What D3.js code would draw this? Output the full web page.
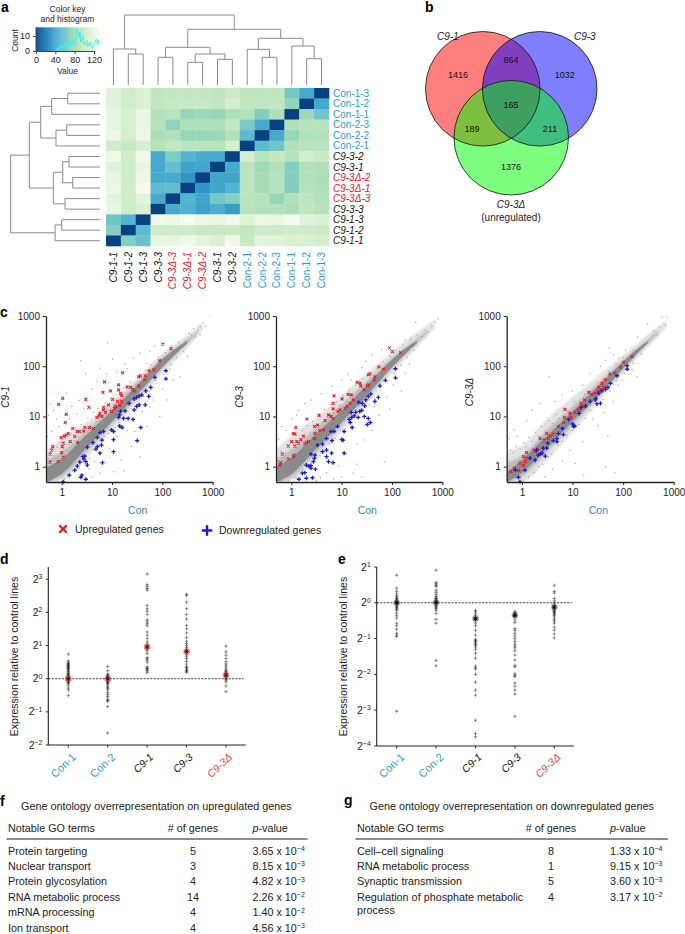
<!DOCTYPE html>
<html><head><meta charset="utf-8">
<script src="https://cdn.jsdelivr.net/npm/d3@7/dist/d3.min.js"></script>
<style>
html,body{margin:0;padding:0;background:#fff}
svg{display:block;font-family:"Liberation Sans",Arial,sans-serif}
</style></head><body>
<svg id="fig" width="685" height="934"></svg>
<script>
// ---------- a: heat map ----------
const heatCols=["C9-1-1","C9-1-2","C9-1-3","C9-3-3","C9-3Δ-3","C9-3Δ-1","C9-3Δ-2","C9-3-1","C9-3-2","Con-2-1","Con-2-2","Con-2-3","Con-1-1","Con-1-2","Con-1-3"];
const heatRows=["Con-1-3","Con-1-2","Con-1-1","Con-2-3","Con-2-2","Con-2-1","C9-3-2","C9-3-1","C9-3Δ-2","C9-3Δ-1","C9-3Δ-3","C9-3-3","C9-1-3","C9-1-2","C9-1-1"];
const heatValues=[
[114,103,110,94,96,96,96,94,100,94,94,94,62,42,0],
[114,103,110,94,98,98,98,94,106,94,94,94,72,0,42],
[118,108,120,86,90,74,76,74,84,86,68,84,0,76,60],
[118,108,120,88,72,84,84,84,96,64,42,0,84,88,88],
[122,106,122,83,86,74,74,76,86,52,0,42,74,86,86],
[103,98,108,88,94,90,90,90,106,0,52,60,86,90,90],
[126,103,126,42,66,48,42,42,0,106,90,96,88,104,98],
[113,102,120,42,56,38,40,0,42,90,78,86,68,86,84],
[118,102,122,42,42,32,0,40,40,90,80,88,68,86,82],
[122,103,128,52,54,0,32,40,48,90,80,88,68,88,84],
[116,102,116,42,0,48,40,62,68,90,88,74,86,92,86],
[120,102,110,0,42,46,38,44,35,90,86,86,83,94,88],
[60,48,0,126,122,130,122,120,126,114,122,120,128,114,110],
[68,0,52,103,102,102,98,98,100,96,102,100,102,102,100],
[0,68,58,120,118,124,116,110,126,98,116,114,110,110,106]];
const colTree=[70,[36,"C9-1-1",[31,"C9-1-2","C9-1-3"]],[55.7,[37.7,[27.7,"C9-3-3","C9-3Δ-3"],[31,[22.7,"C9-3Δ-1","C9-3Δ-2"],[25.7,"C9-3-1","C9-3-2"]]],[46.7,[35.7,"Con-2-1",[27.7,"Con-2-2","Con-2-3"]],[39,"Con-1-1",[26.3,"Con-1-2","Con-1-3"]]]]];
const rowTree=[70,[55.4,[46.5,[37.9,[25.3,"Con-1-3","Con-1-2"],"Con-1-1"],[34.5,[26.1,"Con-2-3","Con-2-2"],"Con-2-1"]],[36.6,[29.2,[24.3,"C9-3-2","C9-3-1"],[21.4,"C9-3Δ-2","C9-3Δ-1"]],[27.4,"C9-3Δ-3","C9-3-3"]]],[35.2,[30,"C9-1-3","C9-1-2"],"C9-1-1"]];
const keyTicks=[0,40,80,120], keyCountTicks=[0,10];
const histStart=42, histStep=2;
const histCounts=[0,2,1,3,4,3,2,4,3,5,2,4,6,3,5,4,7,5,6,4,8,15,12,9,13,6,8,10,5,4,6,7,3,5,4,6,3,2,4,5,7,8,5,7,4];
const heatStops=[0,12,28,46,65,80,100,130];
const heatColors=["#084081","#0868ac","#2b8cbe","#4eb3d3","#7bccc4","#a8ddb5","#ccebc5","#f7fcf0"];
// ---------- b: Venn ----------
const vennSets=["C9-1","C9-3","C9-3Δ"];
const vennCounts=[1416,864,1032,165,189,211,1376];
// ---------- c: scatter, log10 expression [Con, sample] ----------
const scatterTicks=[1,10,100,1000];
const upA=[[2.01,2.44],[2.17,2.35],[1.95,2.11],[1.83,1.93],[1.74,1.91],[1.66,1.81],[1.56,1.81],[1.53,1.79],[1.21,1.87],[.85,1.69],[.48,1.34],[.54,1.18],[.02,1.36],[-.06,1.24],[.09,1.04],[.07,.88],[1.13,1.63],[1.13,1.53],[.97,1.51],[.82,1.48],[1.17,1.46],[1.19,1.42],[1.30,1.59],[1.37,1.58],[1.41,1.54],[1.44,1.51],[1.53,1.61],[1.65,1.73],[1.11,1.30],[1.01,1.34],[.93,1.23],[.83,1.18],[.83,1.13],[.76,1.06],[.74,1.01],[.70,.98],[.80,1.00],[.87,1.08],[.99,1.10],[1.05,1.16],[1.07,1.20],[1.15,1.22],[1.19,1.30],[.63,.76],[.55,.78],[.46,.78],[.44,.71],[.35,.70],[.31,.70],[.26,.60],[.17,.50],[.13,.66],[.09,.63],[.05,.61],[-.01,.58],[.03,.47],[.01,.40],[0,.28],[.03,.19],[-.07,.10],[-.23,.09],[-.23,.25],[-.20,.33],[-.18,.40],[.32,.48],[.22,.76]];
const downA=[[2.07,1.91],[2.07,1.75],[1.85,1.78],[1.77,1.58],[1.73,1.40],[1.67,1.51],[1.59,1.43],[1.54,1.41],[1.49,1.38],[1.44,1.35],[1.34,1.26],[1.26,1.11],[1.54,1.23],[1.49,1.20],[1.44,1.13],[1.66,1.23],[1.42,.94],[1.32,.96],[1.23,.96],[1.15,1.03],[1.13,.98],[1.17,1.10],[1.15,.81],[1.20,.78],[1.57,.78],[1.50,.52],[1.03,.54],[1.03,.70],[.99,.73],[.83,.70],[.76,.68],[.71,.58],[.80,.53],[.79,.43],[.71,.40],[.68,.35],[.51,.39],[.62,.48],[.76,.27],[.81,.08],[.46,.21],[.42,.20],[.44,.15],[.48,.10],[.51,.03],[.36,.09],[.31,.01],[.26,-.07],[.15,-.17],[.03,-.30],[.40,-.17],[.38,-.21],[.48,-.25],[1.03,.30]];
const otherA=[[2.95,3.0],[2.81,2.86],[2.86,2.8],[2.75,2.79],[2.7,2.72],[2.62,2.75],[2.58,2.62],[2.53,2.65],[2.65,2.58],[2.75,2.62],[2.45,2.5],[.91,2.47],[.38,2.11],[1.01,2.14],[.76,1.96],[.48,1.85],[1.42,2.16],[1.56,2.26],[1.69,2.06],[1.3,1.95],[.1,1.46],[-.23,1.26],[-.16,1.13],[-.26,1.03],[-.1,.95],[.2,1.2],[.35,1.32],[.6,1.55],[.7,1.7],[.9,1.85],[1.1,1.9],[1.25,2.05],[1.75,2.3],[1.85,2.4],[1.69,.8],[1.95,1.0],[2.09,1.33],[2.35,1.79],[1.39,.4],[1.24,-.08],[1.03,-.1],[.76,-.13],[1.19,.13],[1.56,.2],[2.22,1.73],[1.82,1.33],[1.89,1.66],[1.3,.72],[1.1,.6],[.95,.35],[.65,.1],[.55,-.05],[.6,-.2],[1.45,.7],[2.0,1.55],[2.15,1.95],[2.5,2.2],[-.28,.6],[-.2,.7],[-.05,.8],[.15,.95],[.3,1.05],[.45,1.15],[1.6,1.1],[1.75,1.2],
[-.27,.17],[-.22,.28],[-.14,.22],[-.09,.38],[-.03,.47],[.04,.37],[.07,.58],[.13,.44],[.18,.66],[.24,.52],[.28,.77],[.33,.6],[.39,.84],[.43,.68],[.52,.97],[.57,.82],[.63,1.08],[.68,.9],[.72,1.16],[.81,1.02],[.86,1.27],[.92,1.14],[.97,1.35],[1.04,1.24],[1.08,1.44],[1.16,1.33],[1.23,1.57],[1.31,1.46],[1.36,1.68],[1.47,1.62],[1.58,1.77],[1.67,1.92],[1.78,2.03],[1.92,2.18],[2.06,2.27],[2.18,2.4],[2.33,2.47],
[-.24,-.25],[-.08,-.29],[.06,-.24],[.21,-.09],[.34,-.04],[.42,.1],[.55,.17],[.63,.34],[.73,.42],[.84,.6],[.93,.66],[1.06,.78],[1.14,.88],[1.27,.96],[1.38,1.16],[1.52,1.25],[1.63,1.4],[1.74,1.5],[1.87,1.72],[2.03,1.84],[2.16,2.03],[2.28,2.17],[2.42,2.3]];
const hazeA=[[-.31,-.31,.28],[0,-.28,.58],[.5,.18,.88],[1,.72,1.33],[1.5,1.28,1.76],[2,1.85,2.25],[2.5,2.36,2.62],[2.8,2.72,2.88]];
const midA=[[-.31,-.31,.12],[0,-.2,.3],[.5,.3,.72],[1,.84,1.2],[1.5,1.38,1.68],[2,1.95,2.18],[2.4,2.36,2.46],[2.7,2.65,2.7]];
const coreA=[[-.31,-.31,-.02],[0,-.14,.16],[.5,.38,.64],[1,.9,1.12],[1.5,1.44,1.62],[2,1.98,2.14],[2.3,2.28,2.38],[2.5,2.46,2.5]];
const upB=[[1.95,2.36],[2.01,2.29],[2.17,2.27],[1.74,1.99],[1.83,1.94],[1.53,1.83],[1.56,1.85],[1.66,1.79],[1.65,1.73],[1.54,1.63],[1.51,1.61],[1.45,1.53],[1.38,1.61],[1.31,1.68],[1.37,1.66],[1.19,1.43],[1.13,1.44],[1.01,1.35],[.85,1.41],[.83,1.26],[.83,1.15],[.93,1.10],[1.07,1.16],[1.11,1.20],[1.17,1.26],[1.23,1.33],[.97,1.13],[.74,1.03],[.79,1.00],[.83,.96],[.67,.92],[.55,1.02],[.31,.95],[.09,.78],[.04,.66],[.07,.65],[.01,.50],[.11,.50],[.14,.47],[.24,.61],[.19,.54],[.30,.48],[.46,.80],[.52,.83],[.47,.66],[.46,.56],[.64,.73],[.57,.72],[.34,.50],[.07,.41],[-.06,.41],[-.18,.25],[.06,.23],[.04,.20],[-.06,.15],[-.21,.08],[-.23,.03],[.27,.45]];
const downB=[[2.07,1.95],[2.07,1.77],[1.87,1.72],[1.76,1.61],[1.73,1.38],[1.66,1.30],[1.58,1.45],[1.53,1.40],[1.48,1.33],[1.41,1.26],[1.34,1.28],[1.46,1.21],[1.40,1.12],[1.36,1.10],[1.28,1.08],[1.19,1.08],[1.25,1.01],[1.20,.98],[1.15,.94],[1.17,.88],[1.33,.98],[1.45,1.00],[1.53,.96],[1.57,.88],[1.51,.84],[1.21,.78],[.92,.80],[1.05,.70],[1.00,.54],[1.03,.53],[.79,.70],[.85,.70],[.81,.52],[.70,.56],[.62,.45],[.52,.43],[.70,.33],[.62,.30],[.39,.25],[.47,.23],[.46,.17],[.44,.10],[.80,.27],[1.05,.27],[.70,.20],[.74,.10],[.83,.08],[.30,.03],[.35,.01],[.39,.02],[.48,-.05],[.27,-.12],[.22,-.13],[.15,-.25],[.30,-.23],[.42,-.22],[.39,-.03]];
const otherB=[[2.92,2.94],[2.47,2.87],[2.79,2.79],[2.86,2.88],[2.66,2.72],[2.59,2.59],[2.26,2.52],[2.72,2.68],[2.5,2.62],[2.38,2.55],[.4,1.33],[.27,1.26],[.11,1.03],[-.19,.8],[1.2,1.73],[1.6,2.23],[1.79,2.33],[1.0,1.72],[.8,1.6],[.6,1.45],[.15,1.12],[.02,.95],[-.1,.72],[-.25,.55],[1.4,1.98],[1.48,2.1],[1.12,1.85],[1.85,.1],[1.46,.53],[1.23,-.13],[1.4,-.2],[2.19,1.5],[2.03,1.63],[2.26,1.86],[1.75,1.02],[1.6,.72],[1.3,.45],[1.1,.25],[.95,.02],[.7,-.12],[.58,-.22],[.5,-.28],[1.65,1.2],[1.9,1.38],[2.1,1.75],[2.35,2.05],[1.95,1.15],[1.3,.05],[1.0,-.2],[.85,-.25],
[-.28,.12],[-.2,.3],[-.12,.26],[-.07,.42],[-.01,.5],[.06,.42],[.1,.62],[.16,.5],[.21,.72],[.26,.58],[.31,.82],[.37,.68],[.42,.9],[.49,.78],[.55,1.05],[.61,.88],[.66,1.14],[.72,.98],[.78,1.24],[.84,1.08],[.89,1.3],[.96,1.22],[1.02,1.42],[1.09,1.3],[1.15,1.52],[1.22,1.42],[1.28,1.62],[1.35,1.52],[1.43,1.74],[1.52,1.68],[1.62,1.86],[1.71,1.96],[1.83,2.1],[1.96,2.2],[2.08,2.32],[2.22,2.43],[2.36,2.52],
[-.21,-.27],[-.06,-.28],[.09,-.22],[.23,-.06],[.36,0],[.45,.14],[.57,.22],[.66,.3],[.76,.46],[.87,.56],[.97,.72],[1.08,.76],[1.18,.9],[1.29,.98],[1.41,1.12],[1.55,1.24],[1.66,1.36],[1.78,1.52],[1.9,1.7],[2.04,1.86],[2.18,2.02],[2.3,2.18],[2.44,2.32]];
const hazeB=[[-.31,-.31,.33],[0,-.28,.62],[.5,.15,.98],[1,.7,1.42],[1.5,1.25,1.86],[2,1.85,2.28],[2.5,2.38,2.68],[2.85,2.75,2.93]];
const midB=[[-.31,-.31,.15],[0,-.22,.34],[.5,.28,.78],[1,.82,1.24],[1.5,1.36,1.7],[2,1.95,2.17],[2.4,2.36,2.47],[2.7,2.66,2.72]];
const coreB=[[-.31,-.31,0],[0,-.15,.18],[.5,.36,.66],[1,.88,1.12],[1.5,1.42,1.62],[2,1.98,2.13],[2.3,2.28,2.38],[2.5,2.46,2.5]];
const upC=[[2.18,2.19],[2.01,2.08],[1.95,1.98],[1.83,1.86],[1.74,1.84],[1.65,1.73],[1.58,1.66],[1.52,1.58],[1.62,1.58],[1.56,1.53],[1.50,1.50],[1.44,1.46],[1.38,1.44],[1.32,1.48],[1.24,1.33],[1.17,1.26],[1.22,1.20],[1.15,1.16],[1.11,1.13],[1.05,1.08],[.95,1.06],[.97,.98],[.85,1.14],[.84,.98],[.83,.88],[.72,.80],[.62,.65],[.56,.61],[.49,.66],[.44,.53],[.36,.56],[.31,.35],[.23,.33],[.09,.28],[.03,.20],[.09,.17],[.07,.10],[.03,.03],[-.04,.07],[-.15,-.03],[-.22,-.10],[-.07,-.08],[.26,.30],[.52,.56]];
const downC=[[2.08,2.01],[2.08,1.94],[1.88,1.81],[1.75,1.66],[1.70,1.58],[1.65,1.54],[1.58,1.51],[1.52,1.46],[1.46,1.36],[1.35,1.30],[1.26,1.21],[1.17,1.18],[1.13,1.06],[.92,.94],[.80,.76],[.82,.64],[.72,.66],[1.00,.85],[1.04,.81],[1.02,.80],[1.55,1.26],[1.48,1.25],[1.45,1.33],[.69,.56],[.69,.50],[.62,.52],[.51,.47],[.49,.37],[.42,.37],[.40,.27],[.36,.25],[.46,.21],[.32,.23],[.26,.13],[.29,.33],[.16,.17],[.06,-.07],[-.07,-.21],[-.04,-.30],[-.13,-.07]];
const otherC=[[2.77,2.98],[2.87,2.98],[2.84,2.82],[2.48,2.84],[2.28,2.58],[1.81,2.23],[1.91,2.16],[1.72,2.36],[.54,1.79],[.2,1.13],[.36,1.26],[-.15,.73],[2.6,2.7],[2.68,2.62],[2.72,2.78],[1.0,1.5],[.8,1.42],[.65,1.3],[.1,.92],[-.1,.6],[-.25,.55],[1.2,1.62],[1.35,1.85],[1.55,2.0],[1.65,2.12],[2.05,2.32],[1.7,.61],[1.65,0],[1.83,-.12],[1.22,-.17],[1.05,.07],[2.18,1.93],[2.28,1.79],[1.9,1.62],[1.62,1.08],[1.4,.95],[1.2,.5],[.95,.32],[.8,.12],[.6,-.05],[.45,-.2],[1.5,.82],[1.98,1.72],[1.8,1.3],
[-.29,.2],[-.23,.33],[-.17,.28],[-.11,.4],[-.04,.36],[.03,.47],[.08,.4],[.14,.58],[.19,.5],[.27,.68],[.33,.6],[.38,.8],[.46,.72],[.53,.92],[.6,.86],[.67,1.04],[.74,.96],[.82,1.16],[.91,1.1],[1.03,1.3],[1.13,1.24],[1.24,1.44],[1.37,1.5],[1.48,1.68],[1.6,1.72],[1.72,1.9],[1.86,2.05],[2.0,2.18],[2.2,2.32],
[-.25,-.28],[-.12,-.22],[.02,-.27],[.13,-.2],[.24,-.12],[.33,0],[.41,.05],[.52,.2],[.59,.25],[.71,.42],[.79,.5],[.89,.62],[1.0,.72],[1.12,.84],[1.25,.96],[1.36,1.12],[1.49,1.22],[1.6,1.34],[1.74,1.5],[1.88,1.72],[2.02,1.86],[2.2,2.06],[2.36,2.24]];
const hazeC=[[-.31,-.31,.3],[0,-.3,.42],[.5,.14,.96],[1,.68,1.38],[1.5,1.28,1.8],[2,1.86,2.22],[2.5,2.4,2.64],[2.85,2.76,2.92]];
const midC=[[-.31,-.31,.08],[0,-.2,.22],[.5,.3,.74],[1,.82,1.2],[1.5,1.36,1.66],[2,1.92,2.13],[2.4,2.36,2.46],[2.7,2.66,2.72]];
const coreC=[[-.31,-.31,-.12],[0,-.12,.14],[.5,.37,.62],[1,.9,1.1],[1.5,1.4,1.6],[2,1.96,2.09],[2.3,2.28,2.36],[2.5,2.47,2.5]];
// ---------- d, e: strips, log2 ratio ----------
const stripCats=["Con-1","Con-2","C9-1","C9-3","C9-3Δ"];
const dValues=[
[.74,.54,.50,.46,.44,.42,.40,.38,.36,.34,.32,.30,.28,.24,.22,.18,.16,.14,.12,.10,.08,.06,.04,.02,0,-.02,-.04,-.06,-.08,-.10,-.12,-.14,-.20,-.28,-.34,-.51],
[.37,.24,.14,.11,.09,.08,.06,.04,.02,0,-.02,-.04,-.06,-.08,-.10,-.12,-.14,-.16,-.22,-.26,-.30,-.34,-.42,-.48,-.54,-.62,-.66,-.68,-.84,-1.64],
[3.16,2.84,2.78,2.72,2.67,2.21,2.11,2.04,1.94,1.78,1.72,1.66,1.60,1.41,1.31,1.21,1.11,1.04,.96,.90,.84,.76,.64,.60,.56,.50,.36,.32,.30,.26,.24,.18],
[2.55,2.51,2.31,2.11,1.94,1.80,1.61,1.51,1.38,1.24,1.13,1.06,1.00,.94,.88,.80,.72,.66,.60,.52,.44,.36,.34,.30,.27,.24,.22,.19],
[.98,.81,.71,.61,.51,.44,.38,.32,.26,.23,.20,.17,.14,.11,.08,.05,.02,-.01,-.04,-.10,-.22,-.39]];
const dMeans=[0,0,.96,.82,.11];
const eValues=[
[.77,.41,.32,.25,.19,.16,.12,.10,.08,.06,.05,.03,.01,-.01,-.03,-.05,-.07,-.10,-.13,-.15,-.18,-.21,-.29,-.36,-.43,-.57,-.64,-.74,-.85,-.90,-.94,-3.03],
[.91,.57,.53,.49,.46,.35,.29,.23,.18,.14,.12,.10,.08,.05,.03,.01,-.01,-.03,-.05,-.07,-.10,-.13,-.16,-.21,-.29,-.46,-.57,-1.61,-1.76],
[-.21,-.25,-.31,-.36,-.44,-.50,-.57,-.64,-.77,-.90,-1.02,-1.05,-1.07,-1.10,-1.13,-1.16,-1.19,-1.24,-1.30,-1.41,-1.55,-1.77,-1.82,-1.85,-2.0,-2.22,-2.44,-2.58,-3.28,-3.65,-3.74],
[-.24,-.27,-.29,-.31,-.33,-.36,-.40,-.48,-.55,-.72,-.77,-.85,-.93,-1.0,-1.08,-1.15,-1.21,-1.26,-1.34,-1.46,-1.60,-1.75,-1.79,-1.98,-2.03,-2.06,-2.24,-2.33,-2.44,-2.55,-3.17],
[.49,.32,.27,.12,.05,-.01,-.07,-.10,-.13,-.15,-.18,-.2,-.22,-.24,-.27,-.29,-.32,-.35,-.40,-.46,-.51,-.57,-.68,-.76,-.87,-.98]];
const eMeans=[0,.01,-.44,-.35,-.12];
const dTicks=[3,2,1,0,-1,-2], eTicks=[1,0,-1,-2,-3,-4];
// ---------- f, g: tables ----------
const fTerms=["Protein targeting","Nuclear transport","Protein glycosylation","RNA metabolic process","mRNA processing","Ion transport"];
const fGenes=[5,3,4,14,4,4];
const fMant=["3.65","8.15","4.82","2.26","1.40","4.56"];
const fExp=["−4","−3","−3","−2","−2","−3"];
const gTerms=["Cell–cell signaling","RNA metabolic process","Synaptic transmission",["Regulation of phosphate metabolic","process"]];
const gGenes=[8,1,5,4];
const gMant=["1.33","9.15","3.60","3.17"];
const gExp=["−4","−3","−3","−2"];

// ---------- drawing ----------
const INK="#222", BLUE="#2a9cc8", RED="#e0202a", AXBLUE="#2f86c5";
const svg=d3.select("#fig");
const defs=svg.append("defs");
[["soft",1.3],["softer",.7]].forEach(([id,s])=>defs.append("filter").attr("id",id).attr("x","-10%").attr("y","-10%").attr("width","120%").attr("height","120%")
  .append("feGaussianBlur").attr("stdDeviation",s));
function txt(g,x,y,s,o={}){
  const t=g.append("text").attr("x",x).attr("y",y).text(s)
    .attr("font-size",o.size||10).attr("fill",o.fill||INK);
  if(o.anchor)t.attr("text-anchor",o.anchor);
  if(o.italic)t.attr("font-style","italic");
  if(o.bold)t.attr("font-weight","bold");
  if(o.rotate!=null)t.attr("transform",`rotate(${o.rotate} ${x} ${y})`);
  return t;
}
const labelColor=s=>s.startsWith("Con")?BLUE:(s.includes("Δ")?RED:"#111");
const isItalic=s=>!s.startsWith("Con");
[["a",1,12],["b",425,12],["c",0,317],["d",0,564],["e",338,564],["f",0,806],["g",344,805]]
  .forEach(([s,x,y])=>txt(svg,x,y,s,{size:14,bold:true,fill:"#000"}));

// heat map
const hx=d3.scaleBand().domain(heatCols).range([106,329]);
const hy=d3.scaleBand().domain(heatRows).range([88,246]);
const heatColor=d3.scaleLinear().domain(heatStops).range(heatColors);
const ga=svg.append("g");
heatRows.forEach((r,i)=>heatCols.forEach((c,j)=>{
  ga.append("rect").attr("x",hx(c)).attr("y",hy(r)).attr("width",hx.bandwidth()+.3).attr("height",hy.bandwidth()+.3)
    .attr("fill",heatColor(heatValues[i][j]));
}));
heatRows.forEach(r=>txt(ga,333,hy(r)+hy.bandwidth()/2+3.5,r,{fill:labelColor(r),italic:isItalic(r)}));
heatCols.forEach(c=>txt(ga,hx(c)+hx.bandwidth()/2+3.5,252,c,{fill:labelColor(c),italic:isItalic(c),anchor:"end",rotate:-90}));
function dendro(tree,pos,hScale,horizontal){
  const root=d3.hierarchy(tree,d=>Array.isArray(d)?d.slice(1):null);
  root.eachAfter(n=>{
    if(n.children){n.p=d3.mean(n.children,c=>c.p);n.h=n.data[0];}
    else{n.p=pos(n.data);n.h=0;}
  });
  const path=d3.path();
  root.each(n=>{ if(!n.children)return;
    const [a,b]=n.children, H=hScale(n.h);
    if(horizontal){path.moveTo(hScale(a.h),a.p);path.lineTo(H,a.p);path.lineTo(H,b.p);path.lineTo(hScale(b.h),b.p);}
    else{path.moveTo(a.p,hScale(a.h));path.lineTo(a.p,H);path.lineTo(b.p,H);path.lineTo(b.p,hScale(b.h));}
  });
  ga.append("path").attr("d",path.toString()).attr("fill","none").attr("stroke","#8a8a8a").attr("stroke-width",1);
}
dendro(colTree,c=>hx(c)+hx.bandwidth()/2,d3.scaleLinear().domain([0,70]).range([85,15]),false);
dendro(rowTree,r=>hy(r)+hy.bandwidth()/2,d3.scaleLinear().domain([0,70]).range([100,10.7]),true);

// colour key
const kx=d3.scaleLinear().domain([0,120]).range([36,94]);
const ky=d3.scaleLinear().domain([0,10]).range([51,36]);
const kg=svg.append("g");
d3.range(0,130,1).forEach(v=>kg.append("rect").attr("x",kx(v)).attr("y",27.5).attr("width",kx(1)-kx(0)+.3).attr("height",23.5).attr("fill",heatColor(v)));
const hline=d3.line().x(d=>kx(d[0])).y(d=>ky(d[1])).curve(d3.curveStepAfter);
kg.append("path").attr("d",hline(histCounts.map((c,i)=>[histStart+i*histStep,c]))).attr("fill","none").attr("stroke","#45f0ea").attr("stroke-width",.9);
const kax=kg.append("g").attr("transform","translate(0,51)").call(d3.axisBottom(kx).tickValues(keyTicks).tickSize(3).tickSizeOuter(0));
kax.selectAll("text").attr("font-size",9).attr("font-family","inherit").attr("fill",INK);
kax.select(".domain").attr("stroke","#444");kax.selectAll("line").attr("stroke","#444");
const kay=kg.append("g").attr("transform","translate(36,0)").call(d3.axisLeft(ky).tickValues(keyCountTicks).tickSize(3).tickSizeOuter(0));
kay.selectAll("text").attr("font-size",9).attr("font-family","inherit").attr("fill",INK);
kay.select(".domain").attr("d","M0,51V27.5").attr("stroke","#444");kay.selectAll("line").attr("stroke","#444");
txt(kg,67.5,12,"Color key",{size:8.5,anchor:"middle"});
txt(kg,67.5,22,"and histogram",{size:8.5,anchor:"middle"});
txt(kg,67.5,74,"Value",{size:8.5,anchor:"middle"});
txt(kg,18,40.5,"Count",{size:8.5,anchor:"middle",rotate:-90});

// Venn
const vx=d3.scaleLinear().domain([0,1]).range([482.8,539.7]);
const vg=svg.append("g");
const vennCircles=[[0,88.8,"#ff0000"],[1,88.8,"#0000ff"],[.5,137.7,"#00ff00"]];
vennCircles.forEach(([u,cy,col])=>vg.append("circle").attr("cx",vx(u)).attr("cy",cy).attr("r",57.3).attr("fill",col).attr("fill-opacity",.5));
vennCircles.forEach(([u,cy])=>vg.append("circle").attr("cx",vx(u)).attr("cy",cy).attr("r",57.3).attr("fill","none").attr("stroke","#111").attr("stroke-width",.8));
[[458,78],[511,63],[564.7,78],[511,108],[472,131.5],[550,131.5],[511,169.5]].forEach(([x,y],i)=>txt(vg,x,y,vennCounts[i],{size:9,anchor:"middle",fill:"#111"}));
txt(vg,437,40,vennSets[0],{italic:true,size:10});
txt(vg,574,40,vennSets[1],{italic:true,size:10});
txt(vg,511,208,vennSets[2],{italic:true,size:10,anchor:"middle"});
txt(vg,511,221,"(unregulated)",{size:10,anchor:"middle"});

// scatter panels
function scatter(x0,x1000,xAxisLeft,title,lblX,lblY,other,haze,mid,core,up,down){
  const g=svg.append("g");
  const minX=Math.pow(10,(xAxisLeft-x0)/((x1000-x0)/3));
  const x=d3.scaleLog().domain([minX,1000]).range([xAxisLeft,x1000]);
  const y=d3.scaleLog().domain([Math.pow(10,-.305),1000]).range([482,316]);
  const X=l=>x(Math.pow(10,l)), Y=l=>y(Math.pow(10,l));
  const area=d3.area().x(d=>X(d[0])).y0(d=>Y(d[1])).y1(d=>Y(d[2])).curve(d3.curveMonotoneX);
  const clipId="clip"+Math.round(xAxisLeft);
  defs.append("clipPath").attr("id",clipId).append("rect").attr("x",xAxisLeft).attr("y",316).attr("width",x1000-xAxisLeft).attr("height",166);
  const b=g.append("g").attr("clip-path",`url(#${clipId})`);
  b.append("path").attr("d",area(haze)).attr("fill","#e2e2e2").attr("filter","url(#soft)");
  b.append("path").attr("d",area(mid)).attr("fill","#bcbcbc").attr("filter","url(#soft)");
  b.append("g").selectAll("circle").data(other).join("circle").attr("cx",d=>X(d[0])).attr("cy",d=>Y(d[1])).attr("r",.75).attr("fill","#aaaaaa");
  b.append("path").attr("d",area(core)).attr("fill","#8b8b8b").attr("filter","url(#softer)");
  const sym=d3.symbol().size(6.5);
  g.append("g").selectAll("path").data(up).join("path").attr("d",sym.type(d3.symbolTimes)())
    .attr("transform",d=>`translate(${X(d[0])},${Y(d[1])})`).attr("fill","none").attr("stroke",RED).attr("stroke-width",1.1);
  g.append("g").selectAll("path").data(down).join("path").attr("d",sym.type(d3.symbolPlus)())
    .attr("transform",d=>`translate(${X(d[0])},${Y(d[1])})`).attr("fill","none").attr("stroke","#1a1ad0").attr("stroke-width",1.3);
  const fmt=d=>String(d);
  const ax=g.append("g").attr("transform","translate(0,482)").call(d3.axisBottom(x).tickValues(scatterTicks).tickFormat(fmt).tickSize(3).tickSizeOuter(0));
  const ay=g.append("g").attr("transform",`translate(${xAxisLeft},0)`).call(d3.axisLeft(y).tickValues(scatterTicks).tickFormat(fmt).tickSize(3).tickSizeOuter(0));
  [ax,ay].forEach(a=>{a.select(".domain").attr("stroke","#222").attr("stroke-width",1.3);a.selectAll("line").attr("stroke","#222");
    a.selectAll("text").attr("font-size",10).attr("font-family","inherit").attr("fill",INK);});
  ax.selectAll("text").attr("dy","0.9em").attr("y",5);
  txt(g,(x0+x1000)/2+.5,514,"Con",{size:10.5,anchor:"middle",fill:AXBLUE});
  txt(g,lblX,lblY,title,{italic:true,size:10,anchor:"middle",rotate:-90});
}
scatter(61.7,212.7,46,"C9-1",8.5,397,otherA,hazeA,midA,coreA,upA,downA);
scatter(291.3,442.3,276,"C9-3",243,397,otherB,hazeB,midB,coreB,upB,downB);
scatter(522,673.7,506.7,"C9-3Δ",473,392,otherC,hazeC,midC,coreC,upC,downC);
// legend
const lsym=d3.symbol().size(38);
svg.append("path").attr("d",lsym.type(d3.symbolTimes)()).attr("transform","translate(63,529)").attr("fill","none").attr("stroke",RED).attr("stroke-width",2.4);
svg.append("path").attr("d",lsym.type(d3.symbolPlus)()).attr("transform","translate(207,530.5)").attr("fill","none").attr("stroke","#1a1ad0").attr("stroke-width",2.4);
txt(svg,75,533,"Upregulated genes",{size:10.5});
txt(svg,219,534,"Downregulated genes",{size:10.5});

// strip panels
function strip(values,means,ticks,domain,yr,xr,cr,lblX,halo,starCol){
  const g=svg.append("g");
  const x=d3.scalePoint().domain(stripCats).range(cr);
  const y=d3.scaleLinear().domain(domain).range(yr);
  g.append("line").attr("x1",xr[0]).attr("x2",xr[1]-2).attr("y1",y(0)).attr("y2",y(0)).attr("stroke","#111").attr("stroke-width",.8).attr("stroke-dasharray","2.2 1.2");
  const sym=d3.symbol().type(d3.symbolPlus).size(4.5);
  stripCats.forEach((c,i)=>{
    g.append("g").selectAll("path").data(values[i]).join("path").attr("d",sym())
      .attr("transform",d=>`translate(${x(c)},${y(d)})`).attr("fill","none").attr("stroke","#222").attr("stroke-opacity",.6).attr("stroke-width",.8);
    const my=y(means[i]);
    g.append("circle").attr("cx",x(c)).attr("cy",my).attr("r",3.4).attr("fill",halo).attr("fill-opacity",.55);
    g.append("path").attr("d",d3.symbol().type(d3.symbolPlus).size(8)()).attr("transform",`translate(${x(c)},${my})`).attr("fill","none").attr("stroke",starCol).attr("stroke-width",.9);
    g.append("path").attr("d",d3.symbol().type(d3.symbolTimes).size(8)()).attr("transform",`translate(${x(c)},${my})`).attr("fill","none").attr("stroke",starCol).attr("stroke-width",.9);
    const isCon=c.startsWith("Con");
    txt(g,x(c)+(isCon?8.5:7),758,c,{size:isCon?11:10.5,anchor:"end",rotate:-43,fill:isCon?"#3a9ccb":(c.includes("Δ")?"#e5404a":"#111"),italic:isItalic(c)});
  });
  const base=xr[0], bottom=yr[0];
  g.append("line").attr("x1",base).attr("x2",base).attr("y1",yr[1]).attr("y2",bottom).attr("stroke","#222").attr("stroke-width",1.1);
  g.append("line").attr("x1",base).attr("x2",xr[1]).attr("y1",bottom).attr("y2",bottom).attr("stroke","#222").attr("stroke-width",1.1);
  stripCats.forEach(c=>g.append("line").attr("x1",x(c)).attr("x2",x(c)).attr("y1",bottom).attr("y2",bottom+2.5).attr("stroke","#222"));
  ticks.forEach(t=>{
    g.append("line").attr("x1",base-2.5).attr("x2",base).attr("y1",y(t)).attr("y2",y(t)).attr("stroke","#222");
    const e=String(t).replace("-","−");
    const tx=g.append("text").attr("x",base-6).attr("y",y(t)+3.5).attr("text-anchor","end").attr("font-size",10.5).attr("fill",INK);
    tx.append("tspan").text("2");
    tx.append("tspan").attr("dy",-3.5).attr("font-size",6.8).text(e);
  });
  txt(g,lblX,656.5,"Expression relative to control lines",{size:10.5,anchor:"middle",rotate:-90});
}
strip(dValues,dMeans,dTicks,[-2,3.37],[745,567],[48.3,245.7],[68.3,226],18,"#ee3a40","#5a0a10");
strip(eValues,eMeans,eTicks,[-4,1],[746,567],[376.7,574],[396.7,554.3],347,"#777","#000");

// tables
function table(x0,xLine1,xGenes,xP,xTitle,title,terms,genes,mant,exp){
  const g=svg.append("g");
  const rowY=d3.scaleLinear().domain([0,5]).range([854.5,931.5]);
  const S=10.8;
  txt(g,xTitle,810,title,{size:S});
  txt(g,x0,831.5,"Notable GO terms",{size:S});
  txt(g,xGenes,831.5,"# of genes",{size:S,anchor:"middle"});
  const ph=txt(g,xP,831.5,"",{size:S});
  ph.append("tspan").attr("font-style","italic").text("p");ph.append("tspan").text("-value");
  g.append("line").attr("x1",x0-1.5).attr("x2",xLine1).attr("y1",839).attr("y2",839).attr("stroke","#666").attr("stroke-width",1.3);
  terms.forEach((t,i)=>{
    const y=rowY(i);
    if(Array.isArray(t)){txt(g,x0,y,t[0],{size:S});txt(g,x0,y+13,t[1],{size:S});}
    else txt(g,x0,y,t,{size:S});
    txt(g,xGenes,y,genes[i],{size:S,anchor:"middle"});
    const p=txt(g,xP,y,mant[i]+" x 10",{size:S});
    p.append("tspan").attr("dy",-3.5).attr("font-size",7).text(exp[i]);
  });
}
table(8,307.6,193,252.4,21,"Gene ontology overrepresentation on upregulated genes",fTerms,fGenes,fMant,fExp);
table(357,668,551,610,369.5,"Gene ontology overrepresentation on downregulated genes",gTerms,gGenes,gMant,gExp);
</script>
</body></html>
